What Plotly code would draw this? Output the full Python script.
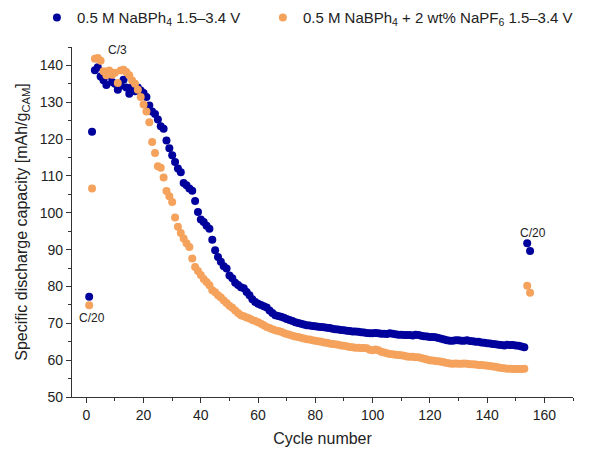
import plotly.graph_objects as go

cycles = list(range(1, 156))

blue_capacity = [
    77.2, 122.0, 138.7, 139.5, 137.0, 136.0, 134.7, 137.2, 135.5, 135.0,
    133.4, 134.5, 136.1, 134.0, 132.3, 134.1, 133.0, 134.0, 133.2, 132.5,
    131.4, 129.1, 127.5, 126.8, 125.3, 123.5, 122.8, 119.6, 117.5, 115.6,
    113.8, 112.0, 111.0, 108.1, 107.5, 106.6, 106.0, 103.2, 100.2, 98.2,
    97.5, 96.5, 95.7, 92.7, 89.8, 88.0, 86.7, 85.5, 84.9, 83.0,
    82.2, 81.0, 80.4, 79.8, 79.5, 78.5, 77.6, 76.5, 75.8, 75.3,
    75.0, 74.6, 74.3, 73.5, 72.8, 72.2, 72.0, 71.8, 71.5, 71.2,
    70.9, 70.6, 70.3, 70.1, 69.9, 69.7, 69.5, 69.4, 69.3, 69.2,
    69.1, 69.0, 68.9, 68.8, 68.7, 68.5, 68.4, 68.3, 68.2, 68.1,
    68.0, 67.9, 67.8, 67.8, 67.7, 67.6, 67.5, 67.4, 67.3, 67.3,
    67.4, 67.3, 67.2, 67.2, 67.1, 67.3, 67.2, 67.0, 66.9, 66.9,
    66.8, 66.8, 66.8, 66.7, 66.9, 66.8, 66.6, 66.5, 66.4, 66.3,
    66.3, 66.2, 66.0, 65.8, 65.6, 65.4, 65.3, 65.3, 65.4, 65.4,
    65.3, 65.3, 65.4, 65.2, 65.1, 65.0, 65.0, 64.8, 64.7, 64.6,
    64.5, 64.4, 64.3, 64.2, 64.1, 64.0, 64.2, 64.1, 64.1, 64.0,
    63.9, 63.7, 63.5, 91.7, 89.6,
]

orange_capacity = [
    74.9, 106.6, 141.8, 142.0, 141.3, 138.4, 137.3, 138.6, 137.5, 138.0,
    135.2, 138.6, 138.8, 138.2, 137.3, 135.9, 135.0, 133.4, 131.4, 129.4,
    127.5, 124.6, 119.2, 116.2, 112.6, 112.2, 109.6, 105.9, 104.5, 102.9,
    98.7, 96.2, 94.5, 93.0, 91.7, 90.7, 87.6, 85.3, 84.2, 83.1,
    82.0, 81.2, 80.3, 79.0, 78.4, 77.6, 77.0, 76.2, 75.5, 74.8,
    74.2, 73.5, 72.8, 72.2, 71.9, 71.6, 71.3, 70.9, 70.6, 70.3,
    69.9, 69.5, 69.0, 68.7, 68.4, 68.1, 67.9, 67.7, 67.4, 67.1,
    66.9, 66.6, 66.4, 66.3, 66.1, 65.9, 65.7, 65.6, 65.4, 65.3,
    65.1, 65.0, 64.8, 64.7, 64.5, 64.4, 64.3, 64.2, 64.0, 63.9,
    63.8, 63.6, 63.5, 63.4, 63.4, 63.3, 63.3, 63.2, 62.8, 62.7,
    62.9, 62.7, 62.3, 62.1, 61.9, 61.7, 61.6, 61.5, 61.4, 61.3,
    61.2, 61.0, 60.9, 60.9, 60.8, 60.8, 60.6, 60.4, 60.2, 60.0,
    59.9, 59.8, 59.7, 59.6, 59.4, 59.2, 59.1, 59.0, 59.1, 59.0,
    59.0, 59.1, 59.0, 58.9, 58.9, 58.8, 58.7, 58.7, 58.6, 58.5,
    58.4, 58.3, 58.2, 58.0, 57.9, 57.8, 57.7, 57.7, 57.6, 57.6,
    57.6, 57.6, 57.7, 80.2, 78.3,
]

series_names = [
    "0.5 M NaBPh<sub>4</sub> 1.5–3.4 V",
    "0.5 M NaBPh<sub>4</sub> + 2 wt% NaPF<sub>6</sub> 1.5–3.4 V",
]

annotations_text = ["C/3", "C/20", "C/20"]
annotations_x = [11, 2, 156]
annotations_y = [144.2, 71.5, 94.5]

FONT = "Liberation Sans, Arial, sans-serif"

fig = go.Figure()
fig.add_trace(go.Scatter(
    x=cycles, y=blue_capacity, mode="markers", name=series_names[0],
    marker=dict(color="#00009c", size=8, line=dict(width=0)),
    legend="legend",
))
fig.add_trace(go.Scatter(
    x=cycles, y=orange_capacity, mode="markers", name=series_names[1],
    marker=dict(color="#f5a25d", size=8, line=dict(width=0)),
    legend="legend2",
))

for t, ax, ay in zip(annotations_text, annotations_x, annotations_y):
    fig.add_annotation(x=ax, y=ay, text=t, showarrow=False,
                       font=dict(size=12, color="#222", family=FONT))

legend_common = dict(
    orientation="h", xref="container", yref="container",
    y=0.978, xanchor="left", yanchor="middle",
    font=dict(size=15, color="#222", family=FONT),
    bgcolor="rgba(0,0,0,0)",
)

fig.update_layout(
    width=590, height=441,
    margin=dict(l=64, r=25, t=39, b=52, autoexpand=False),
    paper_bgcolor="white", plot_bgcolor="white",
    font=dict(family=FONT, color="#222"),
    showlegend=True,
    legend=dict(x=0.049, **legend_common),
    legend2=dict(x=0.432, **legend_common),
    xaxis=dict(
        range=[-5, 170], showgrid=False, zeroline=False,
        showline=True, linecolor="#333", linewidth=1.2,
        ticks="outside", ticklen=5, tickcolor="#333",
        tickmode="linear", tick0=0, dtick=20,
        minor=dict(ticks="outside", ticklen=3, dtick=10, tick0=0, tickcolor="#333", showgrid=False),
        tickfont=dict(size=14, color="#222"),
        title=dict(text="Cycle number", font=dict(size=16, color="#222"), standoff=10),
    ),
    yaxis=dict(
        range=[50, 145], showgrid=False, zeroline=False,
        showline=True, linecolor="#333", linewidth=1.2,
        ticks="outside", ticklen=5, tickcolor="#333",
        tickmode="linear", tick0=50, dtick=10,
        minor=dict(ticks="outside", ticklen=3, dtick=5, tick0=50, tickcolor="#333", showgrid=False),
        tickfont=dict(size=14, color="#222"),
        title=dict(text="Specific discharge capacity [mAh/g<sub>CAM</sub>]",
                   font=dict(size=16, color="#222"), standoff=8),
    ),
)

fig.write_html("out.html")
